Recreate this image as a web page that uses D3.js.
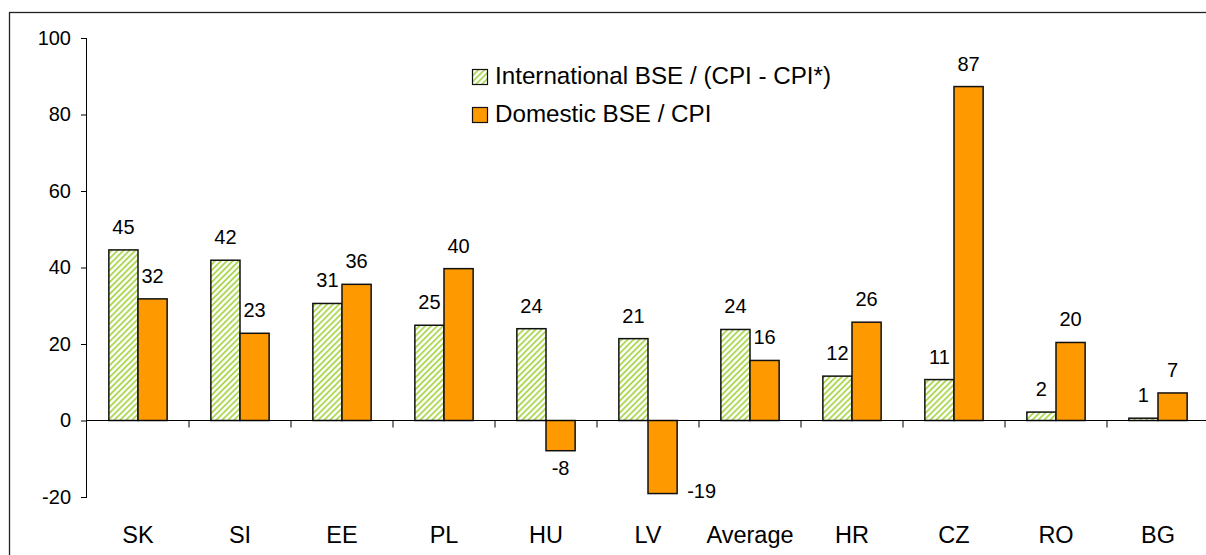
<!DOCTYPE html>
<html>
<head>
<meta charset="utf-8">
<script src="https://cdn.jsdelivr.net/npm/d3@7"></script>
<style>
  body { margin: 0; background: #fff; }
  svg { display: block; font-family: "Liberation Sans", Arial, sans-serif; }
</style>
</head>
<body>
<svg id="chart" width="1206" height="555"></svg>
<script>
// data
const categories = ["SK", "SI", "EE", "PL", "HU", "LV", "Average", "HR", "CZ", "RO", "BG"];
const international = [44.6, 41.9, 30.6, 24.9, 24.0, 21.4, 23.8, 11.6, 10.7, 2.2, 0.6];
const domestic = [31.8, 22.8, 35.6, 39.7, -7.9, -19.1, 15.7, 25.7, 87.3, 20.4, 7.2];
const seriesNames = ["International BSE / (CPI - CPI*)", "Domestic BSE / CPI"];
const yTicks = [-20, 0, 20, 40, 60, 80, 100];

const margin = {top: 38, left: 87};
const plotW = 1122, plotH = 459;

const svg = d3.select("#chart");

// hatch for the international series
const defs = svg.append("defs");
defs.append("pattern")
  .attr("id", "hatch")
  .attr("patternUnits", "userSpaceOnUse")
  .attr("width", 4.2).attr("height", 4.2)
  .attr("patternTransform", "rotate(45)")
  .call(p => {
    p.append("rect").attr("width", 4.2).attr("height", 4.2).attr("fill", "#fff");
    p.append("line").attr("x1", 1).attr("x2", 1).attr("y1", 0).attr("y2", 4.2)
      .attr("stroke", "#a6d444").attr("stroke-width", 1.7);
  });

// outer chart border
svg.append("rect")
  .attr("x", 9.5).attr("y", 12.5)
  .attr("width", 1220).attr("height", 580)
  .attr("fill", "none").attr("stroke", "#222").attr("stroke-width", 1.3);

const g = svg.append("g").attr("transform", `translate(${margin.left},${margin.top})`);

const x = d3.scaleBand().domain(categories).range([0, plotW]).padding(0);
const y = d3.scaleLinear().domain([-20, 100]).range([plotH, 0]);

const barW = x.bandwidth() / 3.5;
const gap = (x.bandwidth() - 2 * barW) / 2;

const rows = categories.map((c, i) => ({cat: c, vals: [international[i], domestic[i]]}));

// y axis
g.append("g")
  .call(d3.axisLeft(y).tickValues(yTicks).tickSize(6).tickPadding(10).tickFormat(d => String(d)))
  .call(a => a.select(".domain").attr("d", `M-0.5,${y(100)}V${y(-20)}`).attr("stroke", "#000"))
  .call(a => a.selectAll(".tick line").attr("stroke", "#000"))
  .call(a => a.selectAll("text").attr("font-size", 20).attr("fill", "#000")
    .attr("font-family", "Liberation Sans, Arial, sans-serif"));

// bars
const groups = g.selectAll(".grp").data(rows).join("g")
  .attr("transform", d => `translate(${x(d.cat) + gap},0)`);

groups.selectAll("rect").data(d => d.vals).join("rect")
  .attr("x", (v, j) => j * barW)
  .attr("y", v => y(Math.max(0, v)))
  .attr("width", barW)
  .attr("height", v => Math.abs(y(v) - y(0)))
  .attr("fill", (v, j) => j === 0 ? "url(#hatch)" : "#ff9900")
  .attr("stroke", "#111").attr("stroke-width", 1.5);

// x axis line at zero with ticks between categories
const xa = g.append("g").attr("transform", `translate(0,${y(0)})`);
xa.append("line").attr("x1", 0).attr("x2", plotW + 10).attr("stroke", "#000");
xa.selectAll(".xt").data(categories.slice(1)).join("line")
  .attr("x1", d => x(d)).attr("x2", d => x(d))
  .attr("y1", 0).attr("y2", 7).attr("stroke", "#000");

// category labels
g.selectAll(".cat").data(categories).join("text")
  .attr("x", d => x(d) + x.bandwidth() / 2)
  .attr("y", y(-20) + 46)
  .attr("text-anchor", "middle")
  .attr("font-size", 23.5)
  .text(d => d);

// value labels
const fmt = v => String(Math.round(v));
groups.selectAll(".lbl").data(d => d.vals).join("text")
  .attr("font-size", 20)
  .each(function (v, j) {
    const t = d3.select(this);
    const cx = j * barW + barW / 2;
    if (v >= 0) {
      t.attr("x", cx).attr("y", y(v) - 16).attr("text-anchor", "middle");
    } else if (y(v) + 30 > y(-20)) {
      // no room below: put it to the right of the bar end
      t.attr("x", (j + 1) * barW + 10).attr("y", y(v) + 4).attr("text-anchor", "start");
    } else {
      t.attr("x", cx).attr("y", y(v) + 24).attr("text-anchor", "middle");
    }
    t.text(fmt(v));
  });

// legend
const lg = svg.append("g").attr("transform", "translate(472,69)");
seriesNames.forEach((name, i) => {
  const row = lg.append("g").attr("transform", `translate(0,${i * 38})`);
  row.append("rect").attr("x", 0.5).attr("y", 0.5).attr("width", 15).attr("height", 15)
    .attr("fill", i === 0 ? "url(#hatch)" : "#ff9900")
    .attr("stroke", "#111").attr("stroke-width", 1.2);
  row.append("text").attr("x", 23).attr("y", 15).attr("font-size", 24.2).text(name);
});
</script>
</body>
</html>
